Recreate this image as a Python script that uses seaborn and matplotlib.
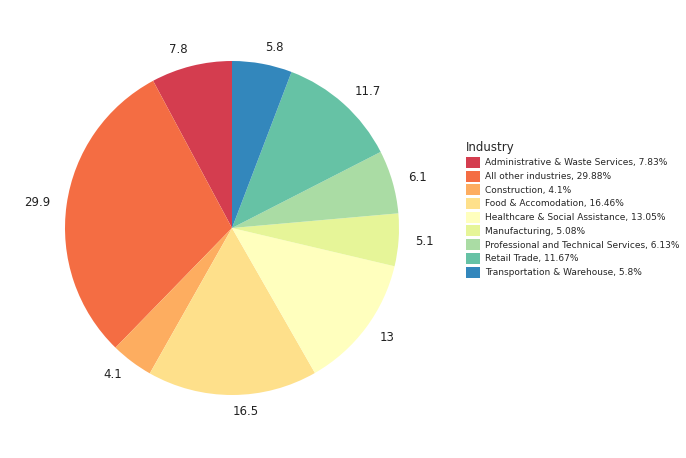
import matplotlib
matplotlib.use("Agg")
import matplotlib.pyplot as plt
import seaborn as sns
from matplotlib.patches import Patch

#data
industries = ["Administrative & Waste Services", "All other industries", "Construction",
              "Food & Accomodation", "Healthcare & Social Assistance", "Manufacturing",
              "Professional and Technical Services", "Retail Trade", "Transportation & Warehouse"]
shares = [7.83, 29.88, 4.1, 16.46, 13.05, 5.08, 6.13, 11.67, 5.8]
slice_labels = ["7.8", "29.9", "4.1", "16.5", "13", "5.1", "6.1", "11.7", "5.8"]
legend_pct = ["7.83%", "29.88%", "4.1%", "16.46%", "13.05%", "5.08%", "6.13%", "11.67%", "5.8%"]

sns.set_style("white")
colors = sns.color_palette("Spectral", len(industries))

fig = plt.figure(figsize=(6.86, 4.58), dpi=100)
ax = fig.add_axes([(232 - 167)/686, 1 - (228 + 167)/458, 334/686, 334/458])
wedges, texts = ax.pie(shares, colors=colors, startangle=90, counterclock=True,
                       labels=slice_labels, labeldistance=1.1,
                       textprops={"fontsize": 8.5, "color": "#222222"},
                       wedgeprops={"linewidth": 0})
for t in texts:
    t.set_clip_on(False)
ax.set_xlim(-1, 1)
ax.set_ylim(-1, 1)
ax.set_aspect("equal")

handles = [Patch(facecolor=c, edgecolor="none") for c in colors]
labels = [f"{n}, {p}" for n, p in zip(industries, legend_pct)]
leg = fig.legend(handles, labels, title="Industry", loc="upper left",
                 bbox_to_anchor=(458/686, 1 - 133/458), frameon=False,
                 fontsize=6.5, title_fontsize=8.5, handlelength=1.5, handleheight=1.5,
                 labelspacing=0.3, handletextpad=0.6)
leg._legend_box.align = "left"

fig.savefig("out.png", dpi=100)
